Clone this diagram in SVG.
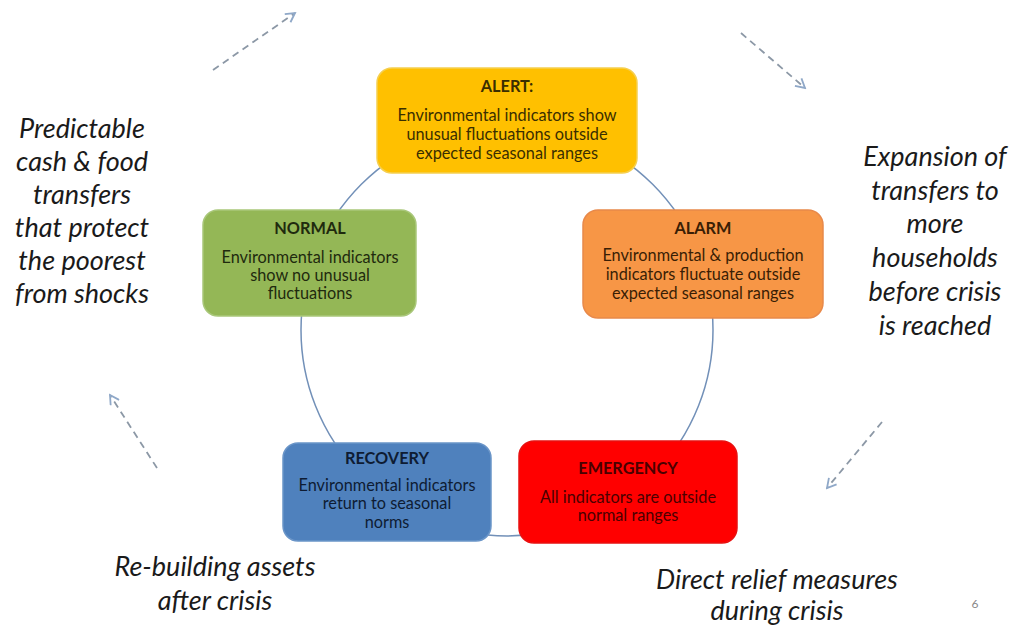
<svg xmlns="http://www.w3.org/2000/svg" width="1012" height="626" viewBox="0 0 1012 626">
<defs>
<style>
.box{stroke-width:1.5}
.t{font-family:Lato,"Liberation Sans",sans-serif;font-size:16.3px;text-anchor:middle}
.h{font-weight:bold}
.side{font-family:Lato,"Liberation Sans",sans-serif;font-style:italic;font-size:27px;text-anchor:middle;fill:#1a1a1a}
.cyc{fill:none;stroke:#7290B8;stroke-width:1.5}
.dash{fill:none;stroke:#8C98A6;stroke-width:1.8;stroke-dasharray:7 5}
</style>
<marker id="ah" viewBox="0 0 12 12" refX="10" refY="6" markerWidth="12" markerHeight="12" markerUnits="userSpaceOnUse" orient="auto">
<path d="M1,1 L10,6 L1,11" fill="none" stroke="#8FA8C8" stroke-width="1.8"/>
</marker>
</defs>
<rect width="1012" height="626" fill="#ffffff"/>
<g id="connectors">
<circle class="cyc" cx="507" cy="330" r="206"/>
<line class="dash" x1="213" y1="70" x2="295" y2="13" marker-end="url(#ah)"/>
<line class="dash" x1="741" y1="33" x2="805" y2="88" marker-end="url(#ah)"/>
<line class="dash" x1="882" y1="422" x2="827" y2="488" marker-end="url(#ah)"/>
<line class="dash" x1="157" y1="468" x2="110" y2="395" marker-end="url(#ah)"/>
</g>
<g id="alert">
<rect class="box" x="377" y="68" width="260" height="105" rx="15" fill="#FFC000" stroke="#F5CF50"/>
<g class="t" fill="#3A2E00">
<text class="h" x="507" y="92">ALERT:</text>
<text x="507" y="121">Environmental indicators show</text>
<text x="507" y="140">unusual fluctuations outside</text>
<text x="507" y="159">expected seasonal ranges</text>
</g>
</g>
<g id="normal">
<rect class="box" x="203" y="210" width="213" height="106" rx="15" fill="#94B756" stroke="#A9C77A"/>
<g class="t" fill="#1F2A0E">
<text class="h" x="310" y="234">NORMAL</text>
<text x="310" y="263">Environmental indicators</text>
<text x="310" y="281">show no unusual</text>
<text x="310" y="299">fluctuations</text>
</g>
</g>
<g id="alarm">
<rect class="box" x="583" y="210" width="240" height="108" rx="15" fill="#F79646" stroke="#E8894A"/>
<g class="t" fill="#3A1E05">
<text class="h" x="703" y="234">ALARM</text>
<text x="703" y="261">Environmental &amp; production</text>
<text x="703" y="280">indicators fluctuate outside</text>
<text x="703" y="299">expected seasonal ranges</text>
</g>
</g>
<g id="recovery">
<rect class="box" x="283" y="443" width="208" height="98" rx="15" fill="#4F81BD" stroke="#6A95C8"/>
<g class="t" fill="#0E1C33">
<text class="h" x="387" y="464">RECOVERY</text>
<text x="387" y="491">Environmental indicators</text>
<text x="387" y="509">return to seasonal</text>
<text x="387" y="528">norms</text>
</g>
</g>
<g id="emergency">
<rect class="box" x="519" y="441" width="218" height="102" rx="15" fill="#FF0000" stroke="#E81010"/>
<g class="t" fill="#4A0000">
<text class="h" x="628" y="474">EMERGENCY</text>
<text x="628" y="503">All indicators are outside</text>
<text x="628" y="521">normal ranges</text>
</g>
</g>
<g id="labels">
<text class="side" x="82" y="138">Predictable</text>
<text class="side" x="82" y="171">cash &amp; food</text>
<text class="side" x="82" y="204">transfers</text>
<text class="side" x="82" y="237">that protect</text>
<text class="side" x="82" y="270">the poorest</text>
<text class="side" x="82" y="303">from shocks</text>
<text class="side" x="935" y="166">Expansion of</text>
<text class="side" x="935" y="200">transfers to</text>
<text class="side" x="935" y="233">more</text>
<text class="side" x="935" y="267">households</text>
<text class="side" x="935" y="301">before crisis</text>
<text class="side" x="935" y="335">is reached</text>
<text class="side" x="215" y="576">Re-building assets</text>
<text class="side" x="215" y="610">after crisis</text>
<text class="side" x="777" y="589">Direct relief measures</text>
<text class="side" x="777" y="620">during crisis</text>
<text x="975" y="608" font-family="Lato,'Liberation Sans',sans-serif" font-size="12" fill="#888888" text-anchor="middle">6</text>
</g>
</svg>
